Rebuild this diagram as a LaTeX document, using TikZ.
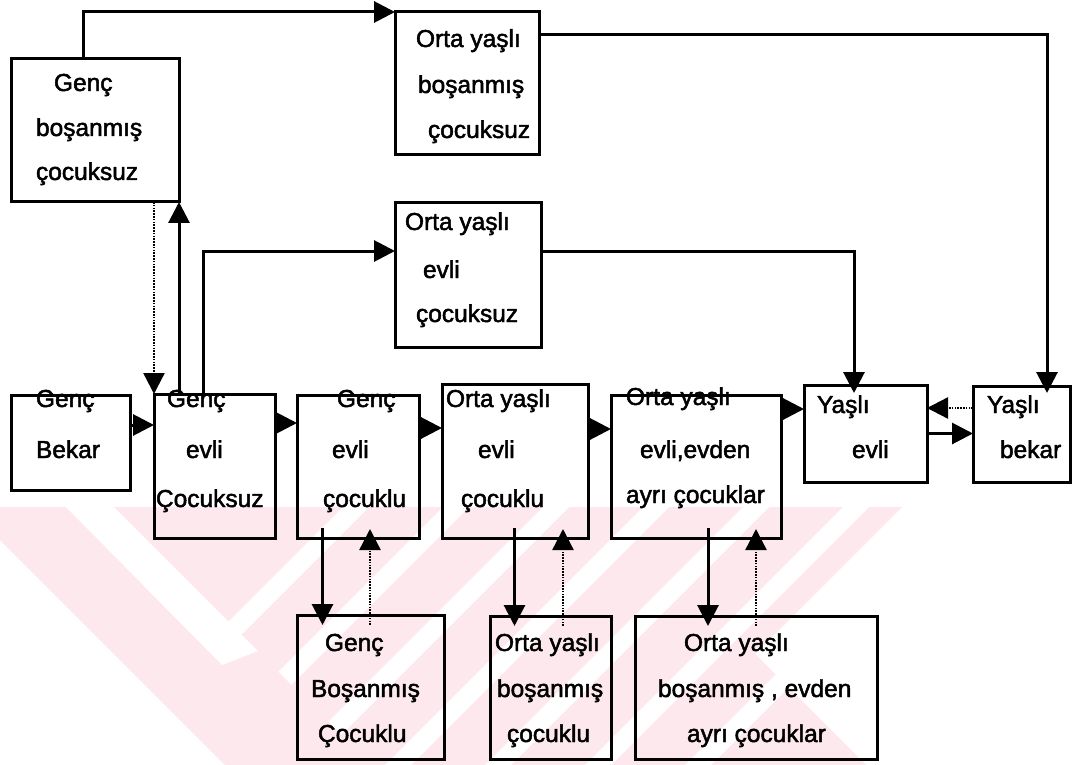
\documentclass[tikz,border=0pt]{standalone}
\usepackage{fontspec}
\setmainfont{Liberation Sans}
\newfontfamily\heavyfont{Liberation Sans}[FakeBold=2]
\usetikzlibrary{arrows.meta}
\definecolor{wm}{RGB}{253,233,237}
\tikzset{
  box/.style={draw, line width=3pt, inner sep=0pt, outer sep=0pt},
  txt/.style={inner sep=0pt, outer sep=0pt, font=\heavyfont\fontsize{24.5}{29}\selectfont, anchor=base west},
  arr/.style={line width=3pt, -{Triangle[length=21pt,width=21pt]}},
  darr/.style={line width=2.4pt, dash pattern=on 1.6pt off 1.2pt, -{Triangle[length=21pt,width=21pt]}},
}
\newcommand\bx[5]{\node[box, minimum width={(#4-#2)*1pt}, minimum height={(#5-#3)*1pt}] (#1) at ({(#2+#4)/2},{(#3+#5)/2}) {};}
\newcommand\tx[4]{\node[txt] (#1) at (#2,#3) {#4};}
\begin{document}
\begin{tikzpicture}[x=1pt,y=-1pt]
\useasboundingbox (0,0) rectangle (1072,765);
\fill[white] (0,0) rectangle (1072,765);
% watermark
\fill[wm] (0,507) -- (902,507) -- (755,654) -- (866,765) -- (225,765) -- (0,540) -- cycle;
\fill[white] (66,507) -- (114,507) -- (258,651) -- (222,665) -- cycle;
\begin{scope}
\clip (114,507) -- (902,507) -- (902,765) -- (372,765) -- cycle;
\foreach \c in {850,950,...,1450} \fill[white] ({\c-507},507) -- ({\c+26-507},507) -- ({\c+26-765},765) -- ({\c-765},765) -- cycle;
\end{scope}
% boxes
\bx{GBC}{11}{59}{179}{202}
\bx{OBC}{395}{12}{539}{155}
\bx{OEC}{395}{203}{541}{347}
\bx{GB}{11}{395}{130}{490}
\bx{GEC}{154}{394}{275}{538}
\bx{GECk}{297}{395}{419}{538}
\bx{OECk}{442}{384}{588}{538}
\bx{OEA}{611}{395}{781}{538}
\bx{YE}{804}{385}{927}{482}
\bx{YB}{973}{386}{1070}{482}
\bx{GBCk}{297}{615}{444}{759}
\bx{OBCk}{490}{616}{611}{759}
\bx{OBE}{635}{616}{877}{759}
% texts
\tx{gbc1}{54}{91}{Genç}
\tx{gbc2}{36}{136}{boşanmış}
\tx{gbc3}{36}{180}{çocuksuz}
\tx{obc1}{416}{47}{Orta yaşlı}
\tx{obc2}{418}{93}{boşanmış}
\tx{obc3}{428}{138}{çocuksuz}
\tx{oec1}{405}{230}{Orta yaşlı}
\tx{oec2}{423}{278}{evli}
\tx{oec3}{416}{322}{çocuksuz}
\tx{gb1}{36}{407}{Genç}
\tx{gb2}{36}{458}{Bekar}
\tx{gec1}{167}{407}{Genç}
\tx{gec2}{186}{458}{evli}
\tx{gec3}{156}{507}{Çocuksuz}
\tx{geck1}{337}{407}{Genç}
\tx{geck2}{332}{458}{evli}
\tx{geck3}{323}{507}{çocuklu}
\tx{oeck1}{446}{407}{Orta yaşlı}
\tx{oeck2}{478}{458}{evli}
\tx{oeck3}{461}{507}{çocuklu}
\tx{oea1}{626}{405}{Orta yaşlı}
\tx{oea2}{640}{458}{evli,evden}
\tx{oea3}{626}{503}{ayrı çocuklar}
\tx{ye1}{817}{413}{Yaşlı}
\tx{ye2}{852}{458}{evli}
\tx{yb1}{987}{413}{Yaşlı}
\tx{yb2}{1000}{458}{bekar}
\tx{gbck1}{325}{651}{Genç}
\tx{gbck2}{311}{697}{Boşanmış}
\tx{gbck3}{318}{742}{Çocuklu}
\tx{obck1}{495}{651}{Orta yaşlı}
\tx{obck2}{497}{697}{boşanmış}
\tx{obck3}{507}{742}{çocuklu}
\tx{obe1}{684}{651}{Orta yaşlı}
\tx{obe2}{658}{697}{boşanmış , evden}
\tx{obe3}{687}{742}{ayrı çocuklar}
% connectors
\draw[arr] ([xshift=72pt]GBC.north west) |- (OBC.north west);
\draw[arr, shorten >=-7pt] ([yshift=-23pt]OBC.north east) -| ([xshift=25.5pt]YB.north);
\draw[darr] (GEC.north west |- GBC.south) -- (GEC.north west);
\draw[arr] (GBC.south east |- GEC.north) -- (GBC.south east);
\draw[arr] ([xshift=49pt]GEC.north west) |- ([yshift=-48pt]OEC.north west);
\draw[arr, shorten >=-8pt] ([yshift=-48pt]OEC.north east) -| ([xshift=-11.5pt]YE.north);
\draw[arr] ([yshift=17.5pt]GB.east) coordinate (a1) -- (a1 -| GEC.west);
\draw[arr] ([yshift=43pt]GEC.east) coordinate (a2) -- (a2 -| GECk.west);
\draw[arr] ([yshift=38.5pt]GECk.east) coordinate (a3) -- (a3 -| OECk.west);
\draw[arr] ([yshift=32pt]OECk.east) coordinate (a4) -- (a4 -| OEA.west);
\draw[arr] ([yshift=57.5pt]OEA.east) coordinate (a5) -- (a5 -| YE.west);
\draw[darr] ([yshift=26pt]YB.west) coordinate (a6) -- (a6 -| YE.east);
\draw[arr] (YE.east) -- (YE.east -| YB.west);
\draw[arr, shorten <=-10pt, shorten >=-10pt] ([xshift=25.5pt]GECk.south west) coordinate (b1) -- (b1 |- GBCk.north);
\draw[darr, shorten <=-10pt, shorten >=-9pt] ([xshift=73pt]GBCk.north west) coordinate (b2) -- (b2 |- GECk.south);
\draw[arr, shorten <=-10pt, shorten >=-10pt] ([xshift=72.5pt]OECk.south west) coordinate (b3) -- (b3 |- OBCk.north);
\draw[darr, shorten <=-10pt, shorten >=-9pt] ([xshift=73pt]OBCk.north west) coordinate (b4) -- (b4 |- OECk.south);
\draw[arr, shorten <=-10pt, shorten >=-10pt] ([xshift=97pt]OEA.south west) coordinate (b5) -- (b5 |- OBE.north);
\draw[darr, shorten <=-10pt, shorten >=-9pt] ([xshift=121pt]OBE.north west) coordinate (b6) -- (b6 |- OEA.south);
\end{tikzpicture}
\end{document}
